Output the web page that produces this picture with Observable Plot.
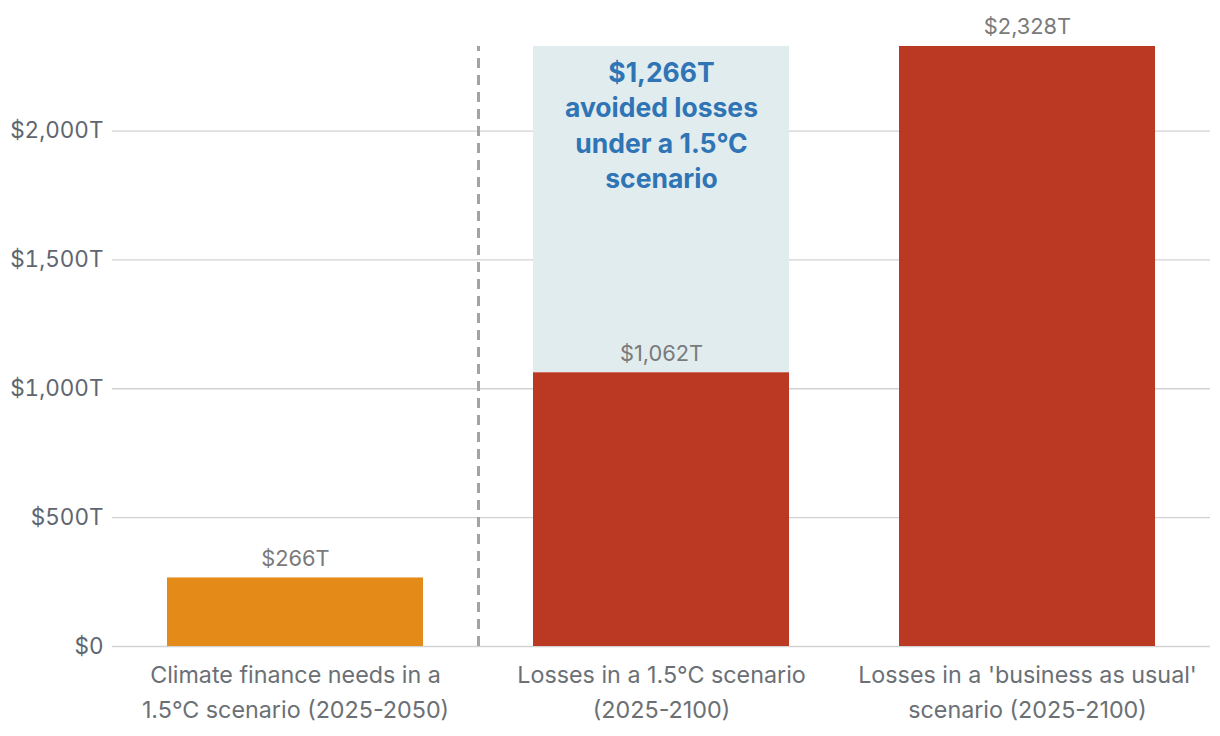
<!DOCTYPE html>
<html>
<head>
<meta charset="utf-8">
<script src="https://cdn.jsdelivr.net/npm/d3@7"></script>
<script src="https://cdn.jsdelivr.net/npm/@observablehq/plot@0.6"></script>
<style>
  html, body { margin: 0; padding: 0; background: #fff; }
  #chart { width: 1220px; height: 736px; }
  svg { font-family: Inter, "Noto Sans", sans-serif; }
</style>
</head>
<body>
<div id="chart"></div>
<script>
const categories = ["climate", "loss15", "bau"];
const categoryLabels = [
  "Climate finance needs in a\n1.5°C scenario (2025-2050)",
  "Losses in a 1.5°C scenario\n(2025-2100)",
  "Losses in a 'business as usual'\nscenario (2025-2100)"
];
const values = [266, 1062, 2328];
const valueLabels = ["$266T", "$1,062T", "$2,328T"];
const barColors = ["#e48a18", "#bb3823", "#bb3823"];
const avoidedValue = 1266;
const avoidedLabel = "$1,266T\navoided losses\nunder a 1.5°C\nscenario";
const yTicks = [0, 500, 1000, 1500, 2000];

const bars = categories.map((c, i) => ({cat: c, value: values[i], label: valueLabels[i], color: barColors[i]}));
const avoided = [{cat: categories[1], y1: values[1], y2: values[1] + avoidedValue, label: avoidedLabel}];
const labelMap = Object.fromEntries(categories.map((c, i) => [c, categoryLabels[i]]));

const chart = Plot.plot({
  width: 1220,
  height: 736,
  marginLeft: 112,
  marginRight: 10,
  marginTop: 46,
  marginBottom: 90,
  style: {fontFamily: "Inter, 'Noto Sans', sans-serif", background: "#fff"},
  x: {domain: categories, paddingInner: 0.3, paddingOuter: 0.15},
  y: {domain: [0, 2328]},
  marks: [
    Plot.ruleY(yTicks, {stroke: "#d2d2d2", strokeWidth: 1.3}),
    Plot.axisY({
      ticks: yTicks,
      tickSize: 0,
      tickPadding: 9,
      fontSize: 22.5,
      fill: "#5f6670",
      label: null,
      tickFormat: d => d === 0 ? "$0" : "$" + d3.format(",")(d) + "T"
    }),
    Plot.axisX({
      tickSize: 0,
      tickPadding: 12,
      fontSize: 23.3,
      lineHeight: 1.5,
      fill: "#6b7075",
      label: null,
      tickFormat: d => labelMap[d]
    }),
    Plot.rectY(avoided, {x: "cat", y1: "y1", y2: "y2", fill: "#e1ecee"}),
    Plot.barY(bars, {x: "cat", y: "value", fill: "color"}),
    Plot.text(bars, {x: "cat", y: "value", text: "label", dy: -19, fontSize: 21.8, fill: "#7a7a7a"}),
    Plot.text(avoided, {x: "cat", y: "y2", text: "label", dy: 77, fontSize: 26.5, lineHeight: 1.34, fontWeight: 700, fill: "#2f74b5"}),
    Plot.ruleX([categories[0]], {y1: 0, y2: 2328, dx: 183, stroke: "#a3a3a3", strokeWidth: 3, strokeDasharray: "10,7"})
  ]
});
document.getElementById("chart").appendChild(chart);
</script>
</body>
</html>
